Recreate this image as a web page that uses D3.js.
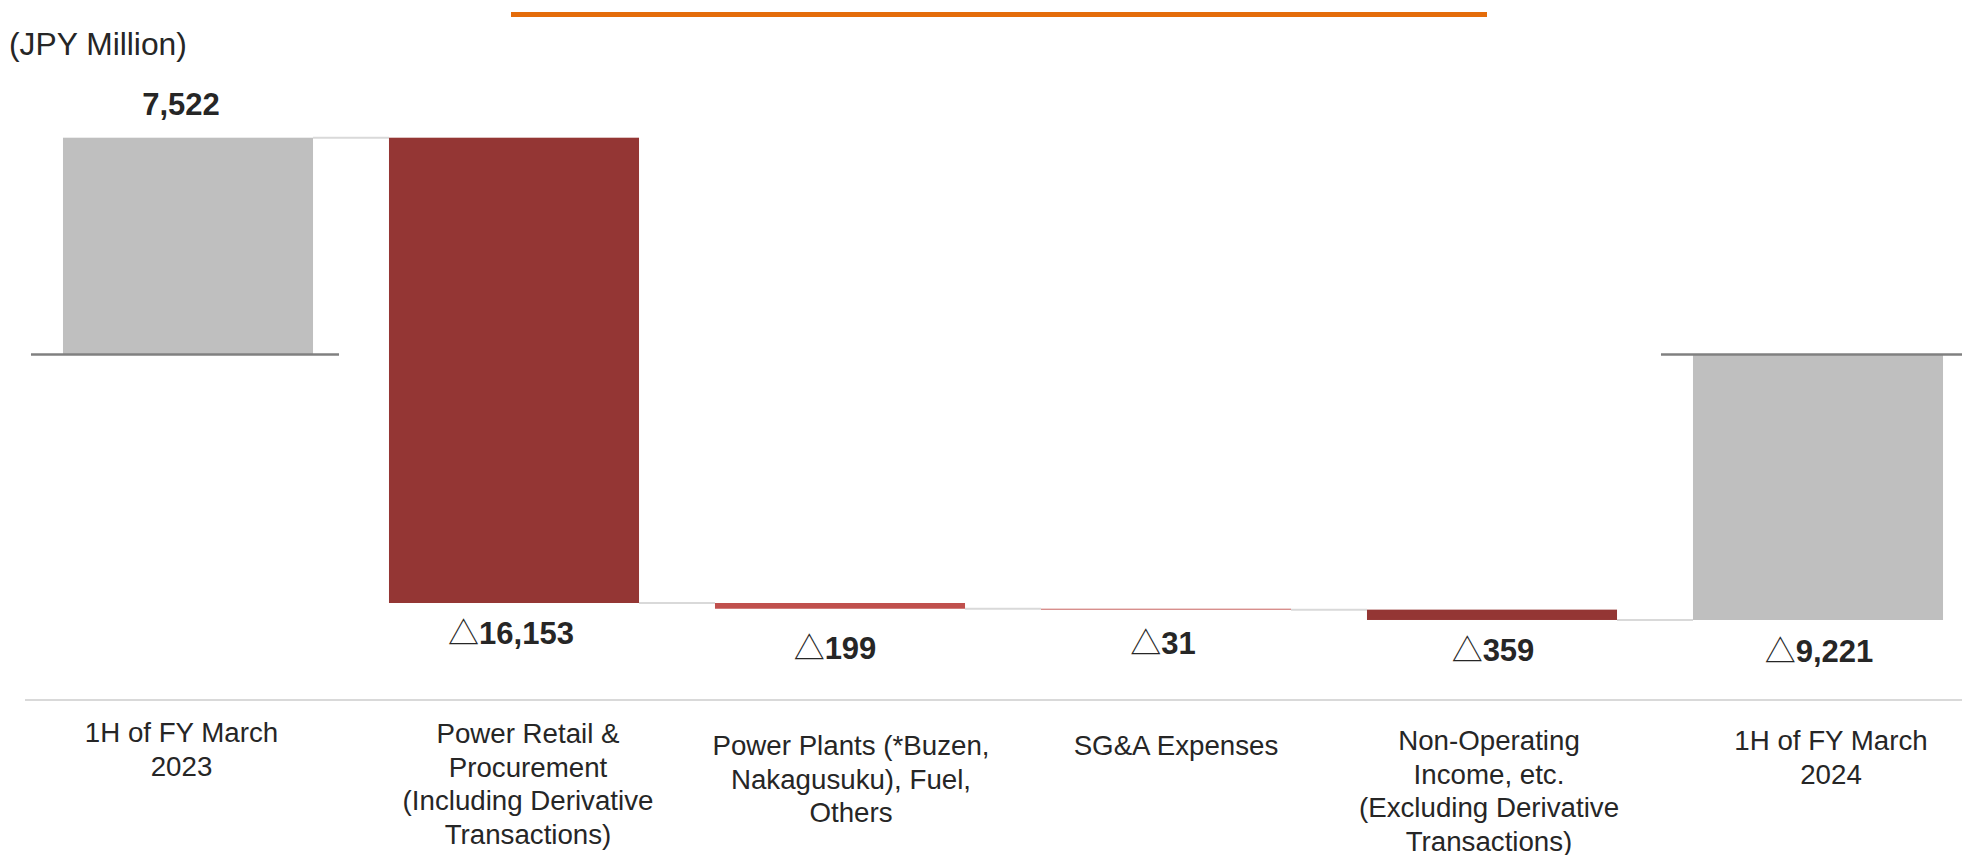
<!DOCTYPE html>
<html>
<head>
<meta charset="utf-8">
<script src="https://cdn.jsdelivr.net/npm/d3@7"></script>
<style>
  html, body { margin: 0; padding: 0; background: #ffffff; }
  svg { display: block; }
  text { font-family: "Liberation Sans", Arial, sans-serif; fill: #262626; }
</style>
</head>
<body>
<svg id="chart" width="1962" height="855"></svg>
<script>
// Ordinary profit bridge, 1H FY March 2023 -> 1H FY March 2024 (JPY million)
const categories = [
  "1H of FY March 2023",
  "Power Retail & Procurement (Including Derivative Transactions)",
  "Power Plants (*Buzen, Nakagusuku), Fuel, Others",
  "SG&A Expenses",
  "Non-Operating Income, etc. (Excluding Derivative Transactions)",
  "1H of FY March 2024"
];
const categoryLines = [
  ["1H of FY March", "2023"],
  ["Power Retail &", "Procurement", "(Including Derivative", "Transactions)"],
  ["Power Plants (*Buzen,", "Nakagusuku), Fuel,", "Others"],
  ["SG&A Expenses"],
  ["Non-Operating", "Income, etc.", "(Excluding Derivative", "Transactions)"],
  ["1H of FY March", "2024"]
];
const values = [7522, -16153, -199, -31, -359, -9221];
const kinds = ["total", "delta", "delta", "delta", "delta", "total"];
const unitLabel = "(JPY Million)";

// styling
const barColors = ["#bfbfbf", "#943634", "#c0504d", "#c0504d", "#943634", "#bfbfbf"];
const catLabelDx = [-6.5, 14, 11, 10, -3, 13];
const catLabelY = [742, 743, 755, 755, 750, 750];
const valLabelDx = [-7, -3, -5, -3, 1, 1];
const valLabelDy = [-23, 41, 50, 44, 41, 42];

const svg = d3.select("#chart");

// build waterfall segments
let running = 0;
const bars = values.map((v, i) => {
  let y0, y1;
  if (kinds[i] === "total") { y0 = 0; y1 = v; running = v; }
  else { y0 = running; y1 = running + v; running = y1; }
  return { i, v, kind: kinds[i], y0, y1, end: running };
});

const x = d3.scaleBand().domain(categories).range([25, 1981]).paddingInner(0.233).paddingOuter(0.1165);
const y = d3.scaleLinear().domain([-9221, 7522]).range([620, 137.7]);
const bw = x.bandwidth();

// orange rule at the top
svg.append("rect").attr("x", 511).attr("y", 12).attr("width", 976).attr("height", 5).attr("fill", "#e46c0a");

// unit label
svg.append("text").attr("x", 9).attr("y", 55).attr("font-size", 31.8).text(unitLabel);

// connectors between consecutive bars
const conn = svg.append("g");
bars.slice(0, -1).forEach((b, k) => {
  const next = bars[k + 1];
  const lvl = next.kind === "total" ? next.y1 : b.end;
  conn.append("line")
    .attr("x1", x(categories[k]) + bw).attr("x2", x(categories[k + 1]))
    .attr("y1", y(lvl)).attr("y2", y(lvl))
    .attr("stroke", "#d9d9d9").attr("stroke-width", 2);
});

// bars
svg.append("g").selectAll("rect").data(bars).join("rect")
  .attr("x", d => x(categories[d.i]))
  .attr("width", bw)
  .attr("y", d => y(Math.max(d.y0, d.y1)))
  .attr("height", d => Math.max(0.9, Math.abs(y(d.y0) - y(d.y1))))
  .attr("fill", d => barColors[d.i]);

// zero baselines under the total bars
svg.append("g").selectAll("line").data(bars.filter(d => d.kind === "total")).join("line")
  .attr("x1", d => x(categories[d.i]) - 32)
  .attr("x2", d => x(categories[d.i]) + bw + 26)
  .attr("y1", y(0)).attr("y2", y(0))
  .attr("stroke", "#808080").attr("stroke-width", 2.5);

// value labels
const fmt = d3.format(",");
const vl = svg.append("g").selectAll("text").data(bars).join("text")
  .attr("x", d => x(categories[d.i]) + bw / 2 + valLabelDx[d.i])
  .attr("y", d => (d.v >= 0 ? y(Math.max(d.y0, d.y1)) : y(Math.min(d.y0, d.y1))) + valLabelDy[d.i])
  .attr("text-anchor", "middle")
  .attr("font-size", 31);
vl.filter(d => d.v < 0).append("tspan")
  .style("font-family", '"Noto Sans CJK JP", sans-serif')
  .attr("font-weight", 400)
  .text("\u25B3");
vl.append("tspan")
  .attr("font-weight", 700)
  .text(d => fmt(Math.abs(d.v)));

// separator under the plot
svg.append("line").attr("x1", 25).attr("x2", 1962).attr("y1", 700).attr("y2", 700)
  .attr("stroke", "#d9d9d9").attr("stroke-width", 2);

// category labels
const cl = svg.append("g").selectAll("text").data(categoryLines).join("text")
  .attr("text-anchor", "middle")
  .attr("font-size", 27.7)
  .attr("y", (d, i) => catLabelY[i]);
cl.each(function (lines, i) {
  const cx = x(categories[i]) + bw / 2 + catLabelDx[i];
  d3.select(this).selectAll("tspan").data(lines).join("tspan")
    .attr("x", cx)
    .attr("dy", (l, j) => j === 0 ? 0 : 33.5)
    .text(l => l);
});
</script>
</body>
</html>
